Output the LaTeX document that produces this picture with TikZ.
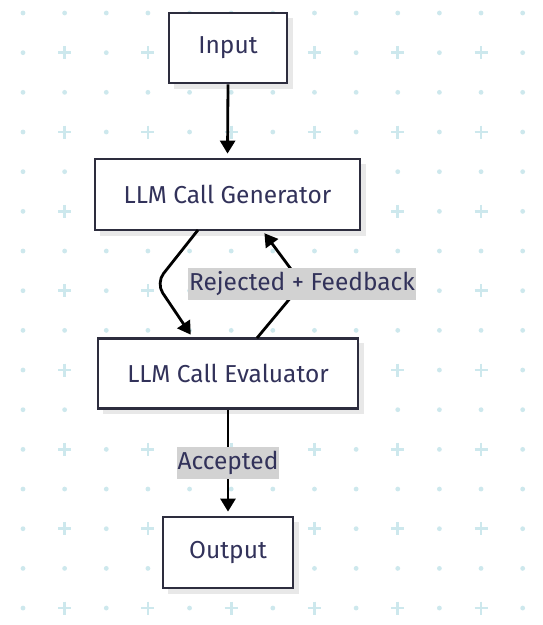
\documentclass[tikz,border=0pt]{standalone}
\usepackage{fontspec}
\setmainfont{Fira Sans}
\usetikzlibrary{arrows.meta,shadows}
\definecolor{gridc}{RGB}{205,232,237}
\definecolor{boxline}{RGB}{45,45,62}
\definecolor{txt}{RGB}{50,50,90}
\definecolor{lblbg}{RGB}{210,210,210}
\definecolor{shad}{RGB}{232,232,232}
\begin{document}
\begin{tikzpicture}[x=1pt,y=-1pt,
  box/.style={draw=boxline, line width=2.8pt, fill=white, rectangle, inner sep=0pt,
    text=txt, font=\fontsize{24.5}{28}\selectfont},
  shadowbox/.style={fill=shad, draw=none},
  conn/.style={draw=black, line width=2.8pt, -{Triangle[width=15pt,length=13pt]}, shorten >=4pt},
  lbl/.style={fill=lblbg, text=txt, font=\fontsize{24.5}{28}\selectfont, inner xsep=1pt, inner ysep=0pt, minimum height=32pt}]
\useasboundingbox (0,0) rectangle (543,625);
\fill[white] (0,0) rectangle (543,625);
% background grid
\foreach \i in {0,...,12}{\foreach \j in {0,...,15}{
  \pgfmathsetmacro\gx{23+41.64*\i}
  \pgfmathsetmacro\gy{13+39.67*\j}
  \pgfmathtruncatemacro\pl{and(isodd(\i),isodd(\j))}
  \ifnum\pl=1
    \draw[gridc, line width=2.6pt] (\gx-6.5,\gy) -- (\gx+6.5,\gy) (\gx,\gy-6.5) -- (\gx,\gy+6.5);
  \else
    \fill[gridc] (\gx,\gy) circle (2.4);
  \fi
}}
% box shadows
\fill[shadowbox] (174,18) rectangle (293,89);
\fill[shadowbox] (100,164) rectangle (366,236);
\fill[shadowbox] (103,343) rectangle (364,414);
\fill[shadowbox] (168,522) rectangle (299,594);
% nodes
\node[box, minimum width=118pt, minimum height=70pt] (in) at (228,48) {Input};
\node[box, minimum width=265pt, minimum height=71pt] (gen) at (227.5,194.5) {LLM Call Generator};
\node[box, minimum width=260pt, minimum height=70pt] (ev) at (228,373.5) {LLM Call Evaluator};
\node[box, minimum width=130pt, minimum height=71pt] (out) at (228,552.5) {Output};
% connector coordinates
\coordinate (g1) at (198,230);
\coordinate (k1) at (156,283);
\coordinate (e1) at (193,338);
\coordinate (e2) at (257,338);
\coordinate (k2) at (302,284);
\coordinate (g2) at (262,230);
% connectors
\draw[conn] (in.south) -- (gen.north);
\draw[conn, rounded corners=12pt] (g1) -- (k1) -- (e1);
\draw[conn] (e2) -- (k2) -- (g2);
\draw[conn] (ev.south) -- (out.north);
% labels
\node[lbl] (rej) at (k2) {Rejected + Feedback};
\node[lbl] (acc) at (228,463) {Accepted};
\end{tikzpicture}
\end{document}
